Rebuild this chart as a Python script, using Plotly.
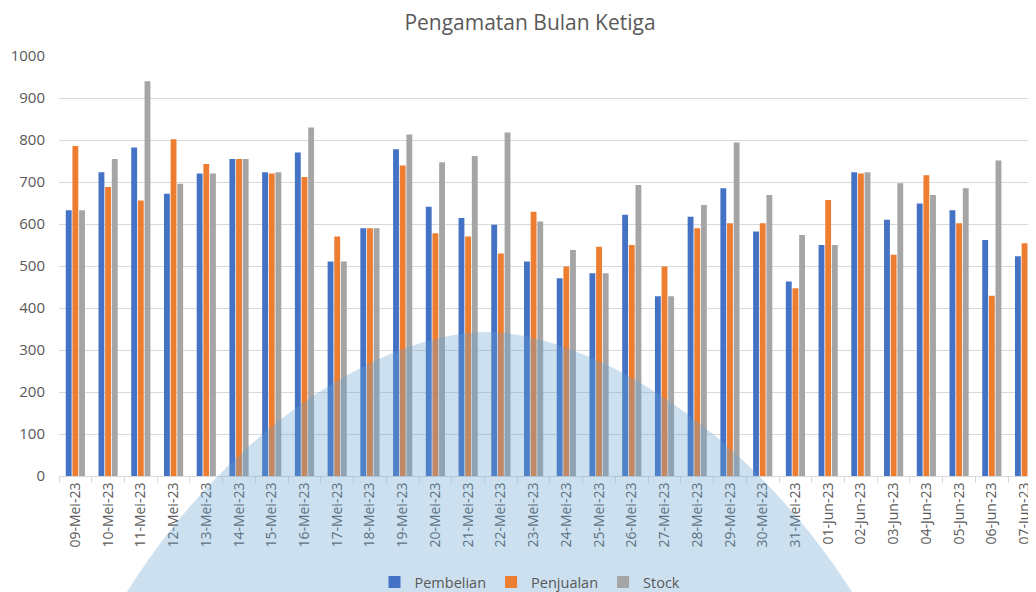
import plotly.graph_objects as go

dates = ["09-Mei-23", "10-Mei-23", "11-Mei-23", "12-Mei-23", "13-Mei-23", "14-Mei-23",
         "15-Mei-23", "16-Mei-23", "17-Mei-23", "18-Mei-23", "19-Mei-23", "20-Mei-23",
         "21-Mei-23", "22-Mei-23", "23-Mei-23", "24-Mei-23", "25-Mei-23", "26-Mei-23",
         "27-Mei-23", "28-Mei-23", "29-Mei-23", "30-Mei-23", "31-Mei-23", "01-Jun-23",
         "02-Jun-23", "03-Jun-23", "04-Jun-23", "05-Jun-23", "06-Jun-23", "07-Jun-23"]

pembelian = [633, 723, 782, 672, 720, 755, 723, 770, 511, 590, 778, 641, 614, 598, 511,
             471, 483, 622, 428, 617, 685, 582, 463, 550, 723, 610, 649, 633, 562, 523]
penjualan = [786, 688, 656, 802, 743, 755, 720, 712, 570, 590, 739, 578, 570, 530, 629,
             499, 546, 550, 499, 590, 602, 602, 447, 657, 720, 527, 716, 602, 429, 554]
stock = [633, 755, 940, 696, 720, 755, 723, 830, 511, 590, 813, 747, 762, 818, 606,
         538, 483, 693, 428, 645, 794, 669, 574, 550, 723, 697, 669, 685, 751, 673]

series = [("Pembelian", pembelian, "#4472C4"),
          ("Penjualan", penjualan, "#ED7D31"),
          ("Stock", stock, "#A5A5A5")]

# page has an 8px body margin; figure laid out in its own coordinates
W, H = 1028, 584
ML, MT, MB, MR = 51, 48, 116, 0
PW, PH = W - ML - MR, H - MT - MB

fig = go.Figure()
for name, vals, col in series:
    fig.add_trace(go.Bar(x=dates, y=vals, name=name, marker=dict(color=col, line=dict(width=0))))

font_family = "Open Sans, Noto Sans, sans-serif"
fig.update_layout(
    width=W, height=H,
    margin=dict(l=ML, r=MR, t=MT, b=MB, autoexpand=False),
    paper_bgcolor="white", plot_bgcolor="white",
    barmode="group", bargap=0.39, bargroupgap=0.12,
    font=dict(family=font_family, color="#595959", size=14),
    title=dict(text="Pengamatan Bulan Ketiga", x=522 / W, xref="container", xanchor="center",
               y=1 - 14.5 / H, yref="container", yanchor="middle",
               font=dict(size=21, color="#595959")),
    showlegend=True,
    legend=dict(orientation="h", x=522 / W, xref="container", xanchor="center",
                y=10 / H, yref="container", yanchor="middle",
                font=dict(size=14.5, color="#595959"), itemwidth=30,
                bgcolor="rgba(0,0,0,0)", traceorder="normal"),
)
fig.update_xaxes(
    type="category", range=[-0.5, 29.35],
    tickangle=-90, tickfont=dict(size=14, color="#595959"),
    showline=True, linecolor="#D9D9D9", linewidth=1,
    ticks="outside", tickson="boundaries", ticklen=6, tickcolor="#D9D9D9",
    showgrid=False, automargin=False,
)
fig.update_yaxes(
    range=[0, 1000], dtick=100, tick0=0,
    showgrid=True, gridcolor="#D9D9D9", gridwidth=1,
    zeroline=False, showline=False,
    tickfont=dict(size=15, color="#595959"),
    ticklabelstandoff=13, automargin=False,
)


# background watermark (decorative), given in page pixels
def P(x, y):
    fx, fy = x - 8, y - 8
    return f"{(fx - ML) / PW:.5f},{(MT + PH - fy) / PH:.5f}"


wm_path = ("M " + P(127, 610) + " L " + P(127, 592) +
           " C " + P(235, 420) + " " + P(390, 332) + " " + P(486, 332) +
           " C " + P(582, 332) + " " + P(742, 420) + " " + P(852, 592) +
           " L " + P(852, 610) + " Z")
fig.add_shape(type="path", xref="paper", yref="paper", path=wm_path,
              fillcolor="rgba(100,160,205,0.33)", line=dict(width=0), layer="above")

fig.write_html("out.html")
